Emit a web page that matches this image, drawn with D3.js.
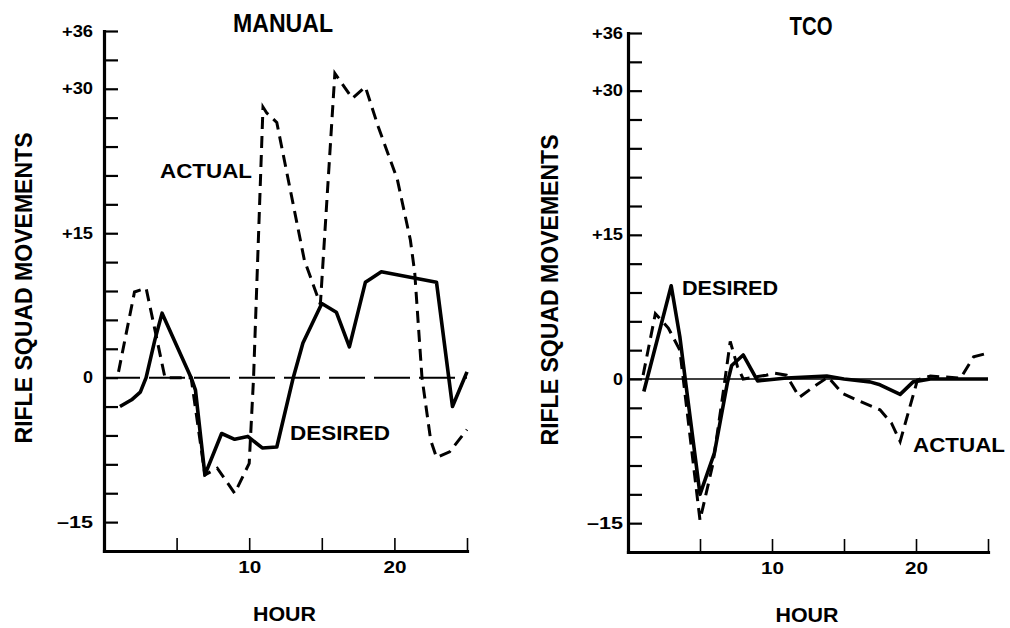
<!DOCTYPE html>
<html>
  <head>
    <meta charset="utf-8">
    <style>
      body { margin: 0; background: #fff; }
      text { font-family: "Liberation Sans", Arial, sans-serif; font-weight: bold; fill: #000; }
    </style>
    <title>Rifle squad movements</title>
  </head>
  <body>

  <div id="viz-wrapper"></div>

  <script src="https://cdnjs.cloudflare.com/ajax/libs/d3/7.8.5/d3.min.js" charset="utf-8"></script>
  <script type="text/javascript">

  // y ticks every 3 movements, only some are labelled
  var yTicks = d3.range(-15, 37, 3);
  var yTickLabels = {36: "+36", 30: "+30", 15: "+15", 0: "0", "-15": "\u201315"};
  var hourTicks = [5, 10, 15, 20, 25];
  var hourTickLabels = {10: "10", 20: "20"};

  // MANUAL panel (hour, movements)
  var manualDesiredHour = [1.1, 1.9, 2.5, 2.9, 3.5, 4.0, 6.0, 6.3, 6.95, 8.1, 9.0, 9.9, 10.9, 11.9, 13.0, 13.7, 15.0, 16.0, 16.9, 18.0, 18.4, 19.1, 22.9, 24.0, 25.0];
  var manualDesired     = [-3.0, -2.3, -1.5, 0, 3.9, 6.7, 0, -1.3, -10.1, -5.8, -6.4, -6.1, -7.3, -7.2, -0.2, 3.6, 7.7, 6.8, 3.2, 9.9, 10.3, 11.0, 9.9, -3.0, 0.6];
  var manualActualHour  = [1.0, 2.1, 2.9, 4.2, 6.0, 6.95, 7.8, 9.0, 10.0, 10.3, 10.95, 11.2, 11.9, 13.8, 14.9, 15.9, 17.1, 18.0, 18.9, 20.2, 21.1, 21.4, 21.9, 22.5, 22.9, 23.8, 25.0];
  var manualActual      = [0.6, 8.9, 9.3, 0, 0, -10.1, -9.4, -12.0, -8.9, 0, 28.1, 27.5, 26.5, 12.2, 7.6, 31.6, 29.0, 30.2, 26.0, 20.6, 14.3, 10.9, 0, -6.5, -8.3, -7.7, -5.4];

  // TCO panel
  var tcoDesiredHour = [1.1, 3.0, 3.6, 4.0, 5.0, 6.0, 6.9, 7.2, 8.0, 9.0, 11.0, 13.8, 15.0, 16.8, 17.5, 18.9, 19.8, 21.0, 23.0, 25.0];
  var tcoDesired     = [-1.3, 9.7, 4.4, -0.3, -12.0, -7.7, -0.4, 1.4, 2.5, -0.2, 0.1, 0.3, 0, -0.3, -0.6, -1.6, -0.3, 0, 0, 0];
  var tcoActualHour  = [1.05, 1.9, 2.8, 3.6, 5.0, 5.9, 6.6, 7.1, 7.6, 8.0, 9.6, 10.2, 11.0, 11.9, 12.9, 13.9, 14.9, 15.9, 17.5, 18.3, 18.9, 20.1, 21.0, 23.1, 24.0, 25.0];
  var tcoActual      = [0.4, 6.8, 5.3, 3.0, -14.7, -8.8, -1.5, 3.9, 1.3, 0, 0.4, 0.6, 0.4, -1.9, -0.8, 0.2, -1.5, -2.2, -3.2, -4.6, -6.5, -0.1, 0.3, 0.1, 2.3, 2.7];

  var width = 1010;
  var height = 628;

  var viz = d3.select("#viz-wrapper")
              .append("svg")
              .attr("width", width)
              .attr("height", height);

  function label(x, y, txt, size, len, anchor, rotate) {
      var t = viz.append("text")
          .attr("font-size", size)
          .attr("text-anchor", anchor || "middle")
          .attr("textLength", len)
          .attr("lengthAdjust", "spacingAndGlyphs")
          .text(txt);
      if (rotate) t.attr("transform", "translate(" + x + "," + y + ") rotate(-90)");
      else t.attr("x", x).attr("y", y);
      return t;
  }

  function drawPanel(p) {
      var x = d3.scaleLinear().domain([0, 25]).range([p.left, p.right]);
      var y = d3.scaleLinear().domain([-18, 36]).range([p.bottom, p.top]);

      // zero reference line
      viz.append("line")
         .attr("x1", x(0)).attr("x2", x(25))
         .attr("y1", y(0)).attr("y2", y(0))
         .style("stroke", "#000")
         .style("stroke-width", p.zeroWidth)
         .style("stroke-dasharray", p.zeroDash);

      var yAxis = d3.axisLeft(y)
                    .tickValues(yTicks)
                    .tickSizeInner(-14)
                    .tickSizeOuter(0)
                    .tickPadding(p.labelPad)
                    .tickFormat(function(d) { return yTickLabels[d] || ""; });
      var ya = viz.append("g").attr("transform", "translate(" + x(0) + ",0)").call(yAxis);
      ya.attr("font-size", null).attr("font-family", null);
      ya.select(".domain").style("stroke-width", 3.2).style("stroke-linecap", "square");
      ya.selectAll(".tick line").style("stroke-width", 2.2);
      ya.selectAll(".tick text")
        .style("font-size", "16px")
        .attr("textLength", function(d) { return d == 0 ? 10 : (d < 0 ? 36 : 31); })
        .attr("lengthAdjust", "spacingAndGlyphs");

      var xAxis = d3.axisBottom(x)
                    .tickValues(hourTicks)
                    .tickSizeInner(-13)
                    .tickSizeOuter(0)
                    .tickPadding(11)
                    .tickFormat(function(d) { return hourTickLabels[d] || ""; });
      var xa = viz.append("g").attr("transform", "translate(0," + y(-18) + ")").call(xAxis);
      xa.attr("font-size", null).attr("font-family", null);
      xa.select(".domain").style("stroke-width", 3.2).style("stroke-linecap", "square");
      xa.selectAll(".tick line").style("stroke-width", 1.6);
      xa.selectAll(".tick text")
        .style("font-size", "16px")
        .attr("textLength", 23)
        .attr("lengthAdjust", "spacingAndGlyphs");

      var line = d3.line()
                   .x(function(d) { return x(d[0]); })
                   .y(function(d) { return y(d[1]); });

      viz.append("path")
         .datum(d3.zip(p.desiredHour, p.desired))
         .attr("d", line)
         .style("fill", "none")
         .style("stroke", "#000")
         .style("stroke-width", 3.6)
         .style("stroke-linejoin", "round");

      viz.append("path")
         .datum(d3.zip(p.actualHour, p.actual))
         .attr("d", line)
         .style("fill", "none")
         .style("stroke", "#000")
         .style("stroke-width", 3)
         .style("stroke-dasharray", "12 7");

      label(p.titleX, p.titleY, p.title, 25, p.titleLen);
      label((p.left + p.right) / 2 - 1, p.bottom + 70, "HOUR", 21, 63);
      label(p.yTitleX, p.yTitleY, "RIFLE SQUAD MOVEMENTS", 23, 311, "middle", true);
  }

  drawPanel({
      left: 104, right: 467, top: 31, bottom: 551, labelPad: 11,
      zeroWidth: 2, zeroDash: "36 9",
      title: "MANUAL", titleX: 283, titleY: 32, titleLen: 100,
      yTitleX: 32, yTitleY: 288,
      desiredHour: manualDesiredHour, desired: manualDesired,
      actualHour: manualActualHour, actual: manualActual
  });

  drawPanel({
      left: 628, right: 988, top: 33, bottom: 552, labelPad: 5,
      zeroWidth: 1.6, zeroDash: null,
      title: "TCO", titleX: 811, titleY: 35, titleLen: 43,
      yTitleX: 558, yTitleY: 290,
      desiredHour: tcoDesiredHour, desired: tcoDesired,
      actualHour: tcoActualHour, actual: tcoActual
  });

  // series labels inside the plots
  label(160, 178, "ACTUAL", 21, 92, "start");
  label(290, 440, "DESIRED", 21, 100, "start");
  label(682, 295, "DESIRED", 21, 96, "start");
  label(913, 452, "ACTUAL", 21, 92, "start");

  </script>
  </body>
</html>
